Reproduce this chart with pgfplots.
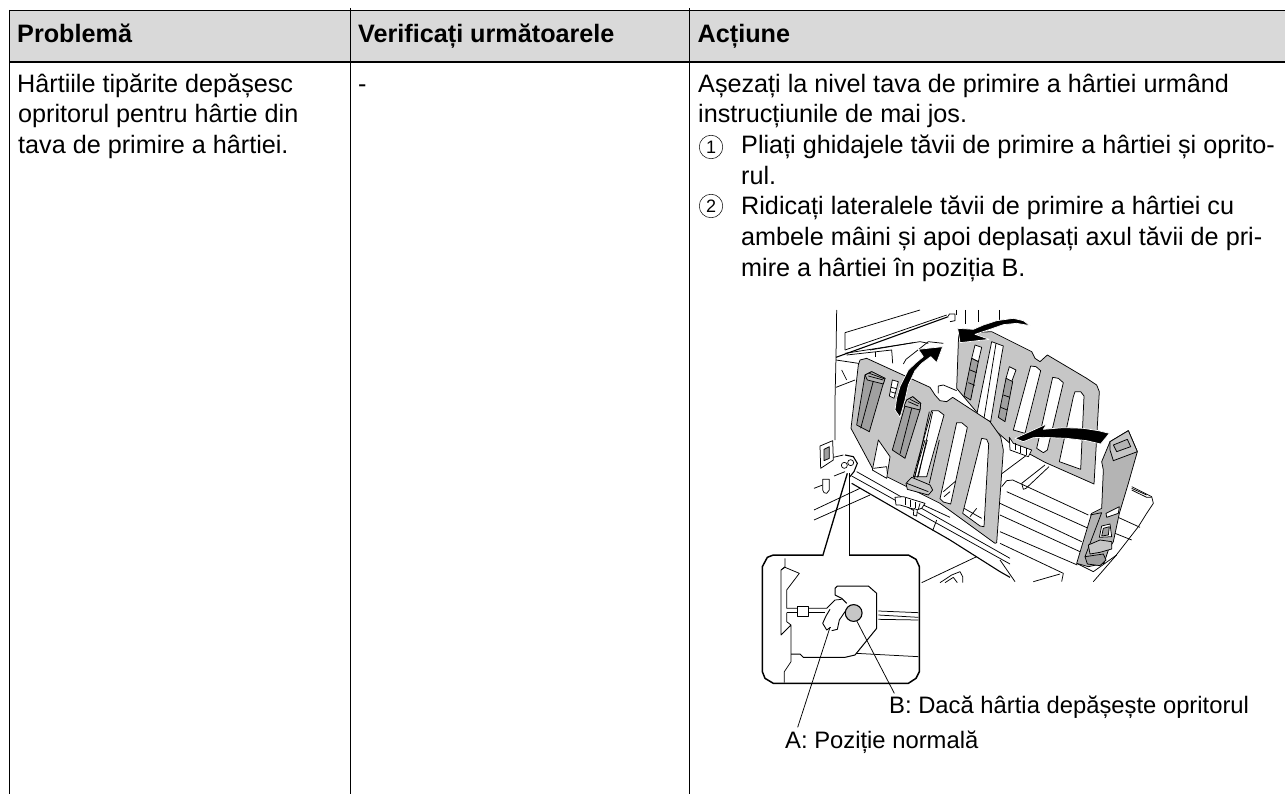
\documentclass[border=0pt]{standalone}
\usepackage{fontspec}
\setmainfont{Liberation Sans}
\usepackage{pgfplots}
\pgfplotsset{compat=1.18}
\definecolor{hd}{HTML}{D9D9D9}
\definecolor{pl}{HTML}{C6C6C6}
\definecolor{hn}{HTML}{A0A0A0}
\definecolor{gd}{HTML}{B4B4B4}
\pgfplotsset{
 zA/.style={x filter/.expression={730+x/3},y filter/.expression={300+y/3}},
 zB/.style={x filter/.expression={730+x/3},y filter/.expression={540+y/3}},
 zE/.style={x filter/.expression={1000+x/3},y filter/.expression={400+y/3}},
 zF/.style={x filter/.expression={800+x/3},y filter/.expression={300+y/3}},
 zG/.style={x filter/.expression={810+x/3},y filter/.expression={440+y/3}},
 zH/.style={x filter/.expression={960+x/3},y filter/.expression={310+y/3}},
 px/.style={forget plot,mark=none,line join=round},
}
\newcommand{\zl}[2]{\addplot[px,black,line width=0.75pt,#1] coordinates {#2};}
\newcommand{\zf}[2]{\addplot[px,draw=black,line width=0.75pt,#1] coordinates {#2} -- cycle;}
\newcommand{\tx}[3]{\node[anchor=base west,inner sep=0pt,font=\fontsize{#3}{#3}\selectfont] at (axis cs:#1) {#2};}
\newcommand{\cn}[2]{\node[circle,draw=black,line width=0.5pt,minimum size=23.5pt,inner sep=0pt,font=\fontsize{18}{18}\selectfont] at (axis cs:#1) {#2};}
\begin{document}
\begin{tikzpicture}
\path[use as bounding box] (0pt,0pt) rectangle (1285pt,794pt);
\begin{axis}[at={(0pt,0pt)},anchor=south west,width=1285pt,height=794pt,scale only axis,
 xmin=0,xmax=1285,ymin=0,ymax=794,y dir=reverse,hide axis,clip=true]
% ---------- table
\addplot[px,fill=hd,draw=none] coordinates {(9.5,10.3) (1285,10.3) (1285,62) (9.5,62)} -- cycle;
\addplot[px,black,line width=1.1pt] coordinates {(9,10.3) (1285,10.3)};
\addplot[px,black,line width=1.1pt] coordinates {(9,62) (1285,62)};
\addplot[px,black,line width=1.0pt] coordinates {(9.5,10) (9.5,794)};
\addplot[px,black,line width=1.0pt] coordinates {(350,8) (350,794)};
\addplot[px,black,line width=1.0pt] coordinates {(689.5,8) (689.5,794)};
% ---------- machine lines, back
\zl{zF}{(110,30) (108,170) (105,300) (105,420)}
\zl{zF}{(135,150) (135,98) (360,30)}
\zl{zF,line width=1.1pt}{(108,172) (445,50)}
\zl{zF}{(135,150) (440,45)}
\zl{zF}{(445,48) (448,42) (465,42) (465,62) (450,65)}
\zl{zF}{(470,30) (470,45)}
\zl{zF}{(497,30) (497,72)}
\zl{zA}{(745,30) (745,65)}
\zl{zA}{(808,30) (808,60)}
\zl{zF}{(135,160) (360,125) (385,130)}
\zl{zF}{(140,165) (275,150) (278,190)}
\zl{zF}{(225,155) (225,172)}
\zl{zF}{(210,150) (340,128)}
\zl{zF}{(310,192) (318,178) (360,145) (385,125) (430,130)}
\zl{zF}{(108,180) (175,190) (180,195)}
\zl{zF}{(108,262) (165,240)}
\zl{zF}{(125,210) (140,240)}
% switch and cylinder
\zf{zG,fill=white}{(30,18) (68,2) (70,60) (32,85)}
\zf{zG,fill=hn}{(42,28) (58,20) (58,55) (42,62)}
\zl{zG}{(70,52) (100,45)}
\zl{zG}{(72,108) (105,95)}
\zl{zG}{(12,145) (38,135)}
\zf{zG,fill=white}{(38,118) (58,118) (58,150) (50,160) (42,158) (38,150)}
\zl{zG}{(12,210) (150,145)}
\zl{zG}{(12,240) (180,165)}
\zl{zG,line width=1.1pt}{(105,45) (130,50) (142,70) (132,95) (118,112)}
\addplot[px,only marks,mark=o,mark size=3pt,mark options={draw=black,line width=0.7pt},zG] coordinates {(103,76) (122,68)};
% wheel, lower machine
\zl{zG}{(335,428) (500,350)}
\zl{zG}{(390,428) (425,405) (450,395) (458,410) (458,428)}
\zl{zG}{(405,428) (430,412) (442,428)}
% ---------- tray right, behind guide
\zl{zE}{(395,260) (455,290) (460,310) (440,340) (415,380) (345,470) (280,545)}
\zl{zE}{(395,270) (440,292) (455,292)}
\zl{zE}{(395,265) (440,285)}
\zl{zE}{(350,350) (420,382)}
\zl{zE}{(345,400) (395,420)}
\zl{zE}{(20,242) (38,240) (265,345)}
\zl{zE}{(20,275) (265,385)}
\zl{zE}{(0,310) (245,425)}
\zl{zE}{(0,345) (240,455)}
\zl{zE}{(0,395) (232,495)}
\zl{zE}{(0,430) (190,520) (185,545)}
\zl{zE}{(0,480) (45,545)}
\zl{zE}{(230,490) (280,515) (350,465)}
\zl{zE}{(100,545) (180,522)}
\zl{zE}{(0,225) (90,158)}
\zl{zE}{(65,250) (135,195)}
\zl{zE}{(78,265) (147,200)}
\zl{zE}{(65,250) (70,268) (78,265)}
\zl{zE}{(20,242) (5,260)}
% ---------- back plate
\zf{zA,fill=pl}{(686,100) (785,95) (905,155) (915,175) (930,185) (952,165) (1070,235) (1100,255) (1108,275) (1092,552) (945,487) (840,430) (760,360) (680,265)}
\zf{zH,fill=white}{(45,105) (65,112) (55,155) (35,145)}
\zf{zH,fill=hn}{(35,145) (55,155) (32,270) (12,258)}
\zf{zH,fill=white}{(95,95) (130,108) (125,135) (92,335) (50,315)}
\zl{zH}{(108,100) (72,325)}
\zf{zH,fill=white}{(148,170) (168,180) (155,215) (138,205)}
\zf{zH,fill=hn}{(138,205) (158,215) (135,335) (115,322)}
\zl{zH}{(30,180) (50,188)}
\zl{zH}{(25,218) (45,226)}
\zl{zH}{(130,255) (150,262)}
\zl{zH}{(122,292) (142,300)}
\zf{zH,fill=white}{(212,168) (228,170) (242,182) (195,370) (160,360)}
\zf{zH,fill=white}{(278,202) (295,205) (310,218) (262,420) (250,428) (230,415)}
\zf{zH,fill=white}{(345,245) (362,245) (372,258) (362,478) (298,455) (340,260)}
% tab behind the front plate
\zl{zA}{(625,280) (625,258) (640,255) (680,272)}
\zf{zE,fill=white}{(28,112) (40,130) (95,150) (85,170) (30,150)}
\zl{zE}{(45,130) (45,150)}
\zl{zE}{(62,138) (62,158)}
\zl{zE}{(78,145) (78,165)}
% ---------- front rails
\zl{zG}{(140,95) (600,355)}
\zl{zG}{(125,108) (600,372)}
\zl{zG,line width=1.1pt}{(125,130) (420,300) (570,395) (600,412)}
\zl{zG}{(380,240) (368,272)}
% ---------- front plate
\zf{zA,fill=pl}{(390,180) (410,175) (600,262) (615,285) (630,302) (650,305) (668,292) (780,365) (812,410) (820,450) (800,728) (795,730) (630,610) (470,530) (430,510) (363,385) (385,195)}
\zf{zA,fill=white}{(487,240) (505,245) (492,295) (478,288)}
\zl{zA}{(483,262) (500,266)}
\zl{zA}{(481,275) (497,280)}
\zf{zG,fill=white}{(205,0) (187,90) (230,115) (240,50)}
\zl{zG}{(190,85) (230,80) (232,100)}
% front slots
\zf{zA,fill=white}{(605,332) (625,332) (642,345) (590,530) (550,530)}
\zl{zA}{(598,335) (555,530)}
\zl{zA}{(608,335) (565,530)}
\zl{zG}{(345,0) (312,115)}
\zl{zG}{(352,0) (322,112)}
\zl{zG}{(388,0) (358,130)}
\zf{zA,fill=white}{(680,368) (695,368) (712,382) (662,612) (640,606) (630,596)}
\zl{zA}{(640,575) (675,545)}
\zl{zA}{(642,590) (660,575)}
\zf{zA,fill=white}{(755,415) (770,418) (776,432) (762,680) (750,678) (698,640)}
\zl{zA}{(702,625) (755,655)}
\zl{zA}{(720,650) (740,625)}
% handles
\zf{zA,fill=hn}{(405,225) (425,215) (465,235) (460,250) (418,395) (380,375)}
\zf{zA,fill=gd}{(405,225) (425,215) (465,235) (460,252) (412,240)}
\zl{zA}{(415,228) (460,240)}
\zl{zA}{(418,220) (462,236)}
\zl{zA}{(430,243) (392,385)}
\zf{zA,fill=hn}{(530,300) (548,290) (572,310) (570,330) (525,475) (487,450)}
\zf{zA,fill=gd}{(530,300) (548,290) (572,310) (570,330) (522,318)}
\zl{zA}{(535,305) (565,318)}
\zl{zA}{(540,298) (568,312)}
\zl{zA}{(545,325) (510,462)}
% latch and comb
\zl{zG}{(340,195) (420,232)}
\zf{zG,fill=white}{(255,172) (280,170) (345,190) (335,205) (320,210) (270,195) (258,195)}
\zl{zG}{(285,175) (285,195)}
\zl{zG}{(300,180) (300,200)}
\zl{zG}{(315,185) (315,205)}
\zl{zG}{(330,190) (325,208)}
\zf{zG,fill=white}{(312,205) (322,210) (320,228) (310,225)}
\zf{zG,fill=pl}{(288,130) (305,112) (360,135) (368,150) (355,165) (292,148)}
\zl{zG}{(290,130) (355,155)}
% ---------- right guide
\zf{zE,fill=gd}{(330,125) (385,92) (412,155) (385,250) (358,340) (340,425) (325,450) (312,490) (265,500) (230,490) (275,340) (305,325) (310,210) (305,185)}
\zf{zE,fill=pl}{(330,125) (385,92) (412,155) (340,182) (330,150)}
\zf{zE,fill=gd}{(340,135) (382,118) (392,140) (350,155)}
\zl{zE}{(270,345) (305,338) (255,470)}
\zf{zE,fill=white}{(318,340) (358,320) (355,340) (320,352)}
\zf{zE,fill=white}{(305,378) (330,372) (335,410) (298,412)}
\zf{zE,fill=hn}{(310,385) (328,380) (325,405) (305,408)}
\zf{zE,fill=hn}{(255,470) (310,462) (318,480) (300,497) (262,492)}
\zf{zE,fill=pl}{(265,435) (300,420) (335,425) (335,447) (300,457) (270,462)}
% ---------- arrows
\addplot[px,fill=black,draw=white,line width=0.7pt,zA] coordinates {(683,85) (730,88) (760,75) (800,62) (850,55) (880,62) (900,77) (860,70) (820,74) (780,88) (735,103) (778,118) (690,128)} -- cycle;
\addplot[px,fill=black,draw=white,line width=0.7pt,zF] coordinates {(300,352) (285,330) (290,295) (300,260) (325,210) (348,188) (370,170) (355,148) (428,140) (410,188) (392,170) (365,190) (345,212) (325,255) (315,300)} -- cycle;
\addplot[px,fill=black,draw=white,line width=0.7pt,zE] coordinates {(45,115) (140,72) (130,88) (190,83) (250,85) (295,92) (328,100) (302,132) (260,122) (200,115) (130,112) (100,113) (70,125)} -- cycle;
% ---------- callout
\addplot[px,fill=white,draw=none,zB] coordinates {(97,80) (130,45) (535,45) (568,80) (568,395) (535,430) (130,430) (97,395)} -- cycle;
\zl{zB}{(165,55) (165,80) (153,90) (153,285) (183,255) (183,365) (163,395) (163,428)}
\zl{zB}{(153,90) (165,82) (208,100) (170,150) (170,205)}
\zl{zB}{(170,218) (170,245) (183,255)}
\zl{zB,line width=1pt}{(315,165) (315,145) (322,138) (415,138) (440,160) (440,265) (375,345) (345,352) (220,352) (210,342) (183,342)}
\zl{zB,line width=1pt}{(315,165) (335,175) (350,190)}
\zl{zB}{(170,205) (290,205) (315,180) (335,178)}
\zl{zB}{(170,218) (203,218)}
\zl{zB}{(235,218) (285,218)}
\zl{zB,line width=0.9pt}{(300,208) (288,228) (278,250) (290,270) (302,262)}
\zl{zB,line width=0.9pt}{(305,272) (322,268) (328,240) (345,215)}
\zf{zB,fill=white}{(203,200) (235,200) (235,228) (203,228)}
\zl{zB}{(445,213) (565,218)}
\zl{zB}{(445,225) (565,232)}
\zl{zB}{(445,238) (565,240)}
\zl{zB}{(378,340) (565,350)}
\addplot[px,only marks,mark=*,mark size=8.4pt,mark options={fill=pl,draw=black,line width=1.1pt},zB] coordinates {(371,219)};
\addplot[px,black,line width=1.5pt,zB] coordinates {(278,45) (130,45) (112,52) (97,80) (97,395) (105,415) (130,430) (535,430) (558,415) (568,395) (568,80) (558,58) (535,45) (358,45)};
\addplot[px,black,line width=1.3pt,zG] coordinates {(112,100) (38,348)};
\addplot[px,black,line width=1.3pt,zG] coordinates {(118,100) (118,348)};
\zl{zB}{(300,262) (203,562)}
\zl{zB}{(371,225) (493,460)}
% ---------- text
\tx{17,42.7}{\bfseries Problemă}{25.2}
\tx{358,42.7}{\bfseries Verificați următoarele}{25.2}
\tx{697.5,42.7}{\bfseries Acțiune}{25.2}
\tx{17,92.5}{Hârtiile tipărite depășesc}{25.2}
\tx{18,123}{opritorul pentru hârtie din}{25.2}
\tx{18,154}{tava de primire a hârtiei.}{25.2}
\tx{358,92.5}{-}{25.2}
\tx{698,92.5}{Așezați la nivel tava de primire a hârtiei urmând}{25.2}
\tx{698,123}{instrucțiunile de mai jos.}{25.2}
\cn{711,147}{1}
\tx{741,154}{Pliați ghidajele tăvii de primire a hârtiei și oprito-}{25.2}
\tx{741,184.5}{rul.}{25.2}
\cn{711,206}{2}
\tx{741,215}{Ridicați lateralele tăvii de primire a hârtiei cu}{25.2}
\tx{741,245.8}{ambele mâini și apoi deplasați axul tăvii de pri-}{25.2}
\tx{741,276.5}{mire a hârtiei în poziția B.}{25.2}
\tx{889,713}{B: Dacă hârtia depășește opritorul}{23.8}
\tx{785,748}{A: Poziție normală}{23.8}
\end{axis}
\end{tikzpicture}
\end{document}
